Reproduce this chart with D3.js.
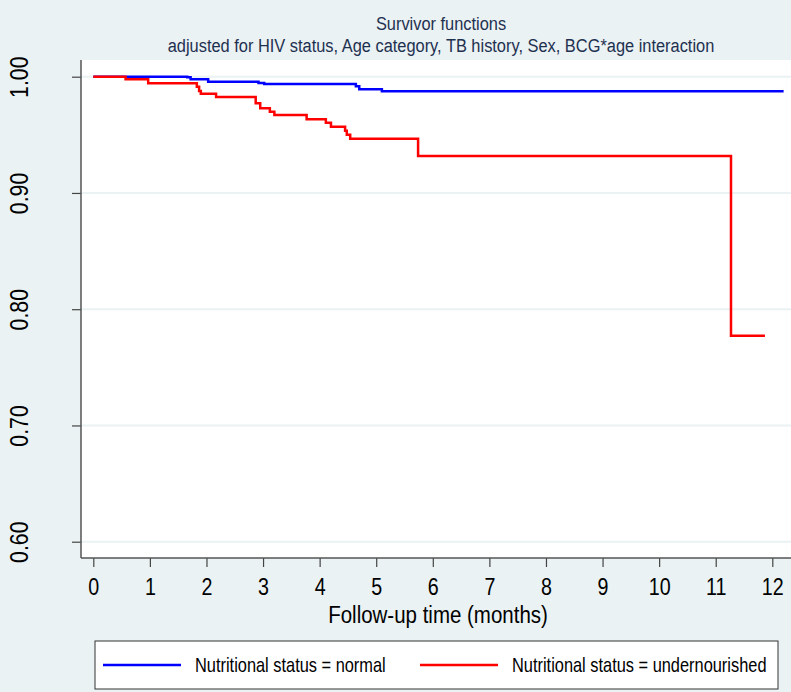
<!DOCTYPE html>
<html>
<head>
<meta charset="utf-8">
<script src="https://cdn.jsdelivr.net/npm/d3@7"></script>
<style>
  html, body { margin: 0; padding: 0; background: #eaf2f3; }
  svg { display: block; }
</style>
</head>
<body>
<script>
// ---------- data ----------
const titleLines = ["Survivor functions", "adjusted for HIV status, Age category, TB history, Sex, BCG*age interaction"];
const xTicks = [0, 1, 2, 3, 4, 5, 6, 7, 8, 9, 10, 11, 12];
const yTicks = [0.6, 0.7, 0.8, 0.9, 1.0];
const xLabel = "Follow-up time (months)";
const seriesNames = ["Nutritional status = normal", "Nutritional status = undernourished"];
const seriesColors = ["#0000ff", "#ff0000"];

const normalTime = [0, 1.66, 1.72, 2.03, 2.92, 3.02, 4.64, 4.70, 5.10, 12.2];
const normalSurv = [1, 0.9995, 0.9978, 0.9957, 0.9946, 0.9937, 0.9917, 0.9892, 0.9874, 0.9874];

const underTime = [0, 0.57, 0.97, 1.83, 1.87, 1.90, 2.17, 2.87, 2.95, 3.12, 3.20, 3.77, 4.11, 4.20, 4.45, 4.48, 4.54, 5.74, 11.27, 11.87];
const underSurv = [1, 0.9978, 0.9943, 0.9914, 0.9877, 0.9854, 0.9825, 0.9771, 0.9728, 0.9699, 0.9671, 0.9634, 0.9604, 0.9570, 0.9535, 0.9501, 0.9467, 0.9318, 0.7772, 0.7772];

// ---------- layout ----------
const W = 791, H = 692;
const plot = { left: 81, top: 60, right: 791, bottom: 558 };
const font = "'Liberation Sans', Arial, sans-serif";
const NARROW = 0.82; // emulate a condensed (Arial Narrow-like) face
const narrowScale = `scale(${NARROW},1)`;

const svg = d3.select("body").append("svg").attr("width", W).attr("height", H);
svg.append("rect").attr("width", W).attr("height", H).attr("fill", "#eaf2f3");

const x = d3.scaleLinear().domain([0, 12]).range([93.3, 772.3]);
const y = d3.scaleLinear().domain([0.6, 1.0]).range([541.7, 76.7]);

// plot region
svg.append("rect")
  .attr("x", plot.left).attr("y", plot.top)
  .attr("width", plot.right - plot.left).attr("height", plot.bottom - plot.top)
  .attr("fill", "#ffffff");

// gridlines
svg.append("g").selectAll("line").data(yTicks).join("line")
  .attr("x1", plot.left).attr("x2", plot.right)
  .attr("y1", d => y(d)).attr("y2", d => y(d))
  .attr("stroke", "#eaf2f3").attr("stroke-width", 2);

// title
svg.append("g").selectAll("text").data(titleLines).join("text")
  .attr("transform", (d, i) => `translate(441,${30 + i * 22}) scale(${NARROW * 20 / 19},1)`)
  .attr("text-anchor", "middle")
  .attr("font-family", font).attr("font-size", 19)
  .attr("fill", "#1e3050")
  .text(d => d);

// y axis
const yAxis = d3.axisLeft(y).tickValues(yTicks).tickFormat(d3.format(".2f")).tickSize(9).tickPadding(0);
const gy = svg.append("g").attr("transform", `translate(${plot.left},0)`).call(yAxis);
gy.select(".domain").remove();
gy.selectAll(".tick line").attr("stroke", "#444").attr("stroke-width", 1.2);
gy.selectAll(".tick text")
  .attr("font-family", font).attr("font-size", 26).attr("fill", "#000")
  .attr("text-anchor", "middle")
  .attr("transform", `translate(-62,0) rotate(-90) ${narrowScale}`)
  .attr("x", 0).attr("dy", "0.35em");
svg.append("line").attr("x1", plot.left).attr("x2", plot.left)
  .attr("y1", plot.top).attr("y2", plot.bottom)
  .attr("stroke", "#555").attr("stroke-width", 1.5);

// x axis
const xAxis = d3.axisBottom(x).tickValues(xTicks).tickFormat(d3.format("d")).tickSize(9).tickPadding(11);
const gx = svg.append("g").attr("transform", `translate(0,${plot.bottom})`).call(xAxis);
gx.select(".domain").remove();
gx.selectAll(".tick line").attr("stroke", "#444").attr("stroke-width", 1.2);
gx.selectAll(".tick text").attr("font-family", font).attr("font-size", 24).attr("fill", "#000")
  .attr("transform", narrowScale);
svg.append("line").attr("x1", plot.left).attr("x2", plot.right)
  .attr("y1", plot.bottom).attr("y2", plot.bottom)
  .attr("stroke", "#555").attr("stroke-width", 1.5);

svg.append("text")
  .attr("transform", `translate(438,623) scale(${NARROW * 25 / 24},1)`)
  .attr("text-anchor", "middle")
  .attr("font-family", font).attr("font-size", 24).attr("fill", "#000")
  .text(xLabel);

// survival curves
const line = d3.line().x(d => x(d[0])).y(d => y(d[1])).curve(d3.curveStepAfter);
const curves = [d3.zip(normalTime, normalSurv), d3.zip(underTime, underSurv)];
svg.append("g").selectAll("path").data(curves).join("path")
  .attr("d", line)
  .attr("fill", "none")
  .attr("stroke", (d, i) => seriesColors[i])
  .attr("stroke-width", 2.5);

// legend
const lg = svg.append("g");
lg.append("rect").attr("x", 95).attr("y", 641).attr("width", 683).attr("height", 48)
  .attr("fill", "#ffffff").attr("stroke", "#333").attr("stroke-width", 1);
const legendX = [103, 420];
seriesNames.forEach((name, i) => {
  lg.append("line").attr("x1", legendX[i]).attr("x2", legendX[i] + 78)
    .attr("y1", 665).attr("y2", 665)
    .attr("stroke", seriesColors[i]).attr("stroke-width", 2.5);
  lg.append("text")
    .attr("transform", `translate(${legendX[i] + 92},672) ${narrowScale}`)
    .attr("font-family", font).attr("font-size", 20).attr("fill", "#000")
    .text(name);
});
</script>
</body>
</html>
